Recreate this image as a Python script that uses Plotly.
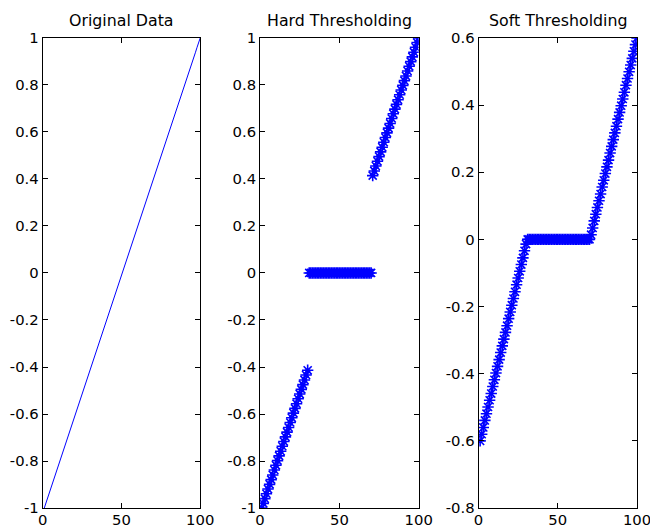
import plotly.graph_objects as go

sample_index = list(range(1, 101))

original_neg = [-1.000, -0.980, -0.960, -0.939, -0.919, -0.899, -0.879, -0.859, -0.838, -0.818,
                -0.798, -0.778, -0.758, -0.737, -0.717, -0.697, -0.677, -0.657, -0.636, -0.616,
                -0.596, -0.576, -0.556, -0.535, -0.515, -0.495, -0.475, -0.455, -0.434, -0.414,
                -0.394, -0.374, -0.354, -0.333, -0.313, -0.293, -0.273, -0.253, -0.232, -0.212,
                -0.192, -0.172, -0.152, -0.131, -0.111, -0.091, -0.071, -0.051, -0.030, -0.010]
original_pos = [0.010, 0.030, 0.051, 0.071, 0.091, 0.111, 0.131, 0.152, 0.172, 0.192,
                0.212, 0.232, 0.253, 0.273, 0.293, 0.313, 0.333, 0.354, 0.374, 0.394,
                0.414, 0.434, 0.455, 0.475, 0.495, 0.515, 0.535, 0.556, 0.576, 0.596,
                0.616, 0.636, 0.657, 0.677, 0.697, 0.717, 0.737, 0.758, 0.778, 0.798,
                0.818, 0.838, 0.859, 0.879, 0.899, 0.919, 0.939, 0.960, 0.980, 1.000]
original_data = original_neg + original_pos

hard_data = [-1.000, -0.980, -0.960, -0.939, -0.919, -0.899, -0.879, -0.859, -0.838, -0.818,
             -0.798, -0.778, -0.758, -0.737, -0.717, -0.697, -0.677, -0.657, -0.636, -0.616,
             -0.596, -0.576, -0.556, -0.535, -0.515, -0.495, -0.475, -0.455, -0.434, -0.414,
             0, 0, 0, 0, 0, 0, 0, 0, 0, 0,
             0, 0, 0, 0, 0, 0, 0, 0, 0, 0,
             0, 0, 0, 0, 0, 0, 0, 0, 0, 0,
             0, 0, 0, 0, 0, 0, 0, 0, 0, 0,
             0.414, 0.434, 0.455, 0.475, 0.495, 0.515, 0.535, 0.556, 0.576, 0.596,
             0.616, 0.636, 0.657, 0.677, 0.697, 0.717, 0.737, 0.758, 0.778, 0.798,
             0.818, 0.838, 0.859, 0.879, 0.899, 0.919, 0.939, 0.960, 0.980, 1.000]

soft_data = [-0.600, -0.580, -0.560, -0.539, -0.519, -0.499, -0.479, -0.459, -0.438, -0.418,
             -0.398, -0.378, -0.358, -0.337, -0.317, -0.297, -0.277, -0.257, -0.236, -0.216,
             -0.196, -0.176, -0.156, -0.135, -0.115, -0.095, -0.075, -0.055, -0.034, -0.014,
             0, 0, 0, 0, 0, 0, 0, 0, 0, 0,
             0, 0, 0, 0, 0, 0, 0, 0, 0, 0,
             0, 0, 0, 0, 0, 0, 0, 0, 0, 0,
             0, 0, 0, 0, 0, 0, 0, 0, 0, 0,
             0.014, 0.034, 0.055, 0.075, 0.095, 0.115, 0.135, 0.156, 0.176, 0.196,
             0.216, 0.236, 0.257, 0.277, 0.297, 0.317, 0.337, 0.358, 0.378, 0.398,
             0.418, 0.438, 0.459, 0.479, 0.499, 0.519, 0.539, 0.560, 0.580, 0.600]

titles = ["Original Data", "Hard Thresholding", "Soft Thresholding"]
x_ticks = [0, 50, 100]
y_ticks_full = [-1, -0.8, -0.6, -0.4, -0.2, 0, 0.2, 0.4, 0.6, 0.8, 1]
y_ticks_soft = [-0.8, -0.6, -0.4, -0.2, 0, 0.2, 0.4, 0.6]

# figure-pixel layout (the photographed page is slightly scaled/offset)
W, H = 663, 540
FONT = "DejaVu Sans, Arial, Helvetica, sans-serif"
boxes = [(38.8, 201.0), (262.6, 425.9), (487.5, 650.7)]
top_px, bot_px = 29.8, 515.3
title_px = 11.7
ydom = [(H - bot_px) / H, (H - top_px) / H]

fig = go.Figure()
fig.add_trace(go.Scatter(x=sample_index, y=original_data, mode="lines",
                         line=dict(color="#0000ff", width=1), xaxis="x", yaxis="y"))
marker_style = dict(symbol="asterisk-open", size=9.5, color="#0000ff",
                    line=dict(color="#0000ff", width=1.6))
fig.add_trace(go.Scatter(x=sample_index, y=hard_data, mode="markers",
                         marker=marker_style, xaxis="x2", yaxis="y2"))
fig.add_trace(go.Scatter(x=sample_index, y=soft_data, mode="markers",
                         marker=marker_style, xaxis="x3", yaxis="y3"))

def tickfmt(v):
    if v == 0:
        return "0"
    return "%g" % v

axis_common = dict(showgrid=False, zeroline=False, showline=True, linecolor="black",
                   linewidth=1, mirror="ticks", ticks="inside", ticklen=5, tickcolor="black",
                   tickfont=dict(family=FONT, size=14.8, color="black"))

layout = dict(width=W, height=H, margin=dict(l=0, r=0, t=0, b=0),
              paper_bgcolor="white", plot_bgcolor="white", showlegend=False,
              font=dict(family=FONT, size=14, color="black"))

yranges = [(-1, 1, y_ticks_full), (-1, 1, y_ticks_full), (-0.8, 0.6, y_ticks_soft)]
annotations = []
for i, (l, r) in enumerate(boxes):
    sx = "" if i == 0 else str(i + 1)
    lo, hi, yt = yranges[i]
    layout["xaxis" + sx] = dict(axis_common, domain=[l / W, r / W], range=[0, 100],
                                tickvals=x_ticks, ticktext=[str(t) for t in x_ticks],
                                ticklabelstandoff=-2, anchor="y" + sx)
    layout["yaxis" + sx] = dict(axis_common, domain=ydom, range=[lo, hi],
                                tickvals=yt, ticktext=[tickfmt(t) for t in yt],
                                anchor="x" + sx)
    annotations.append(dict(text=titles[i], x=(l + r) / 2 / W, y=(H - title_px) / H,
                            xref="paper", yref="paper", showarrow=False,
                            xanchor="center", yanchor="middle",
                            font=dict(family=FONT, size=15.8, color="black")))
layout["annotations"] = annotations
fig.update_layout(**layout)

fig.write_html("out.html", config={"displayModeBar": False},
               post_script="document.body.style.margin='0';document.documentElement.style.overflow='hidden';document.body.style.overflow='hidden';")
